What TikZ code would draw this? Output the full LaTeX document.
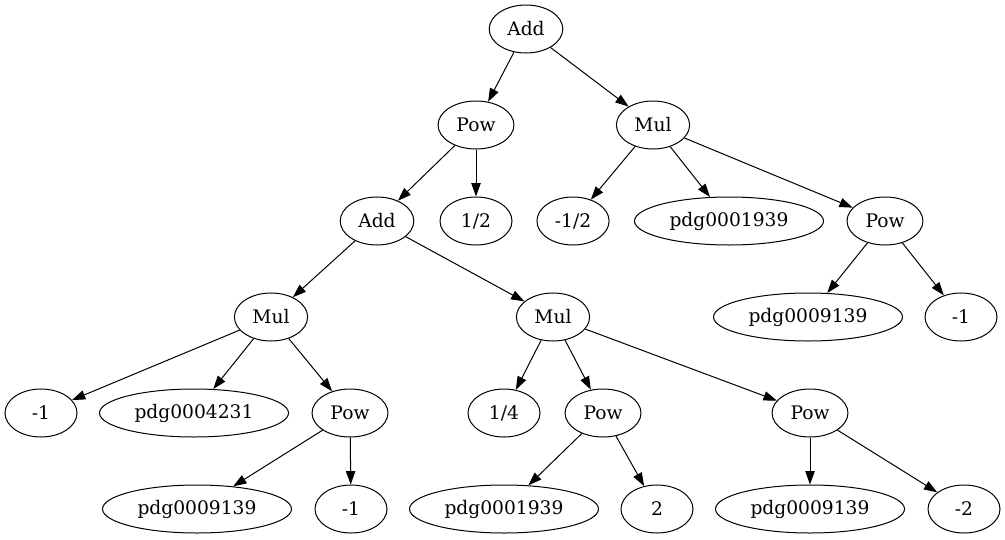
\documentclass[tikz,border=0pt]{standalone}
\usepackage{fontspec}
\setmainfont{DejaVu Serif}
\usetikzlibrary{arrows.meta,shapes.geometric}

\begin{document}
\begin{tikzpicture}[x=0.75pt,y=-0.75pt,
  op/.style={draw,ellipse,line width=0.75pt,minimum width=54pt,minimum height=36pt,
    inner xsep=5.5pt,inner ysep=2pt,font=\fontsize{14}{16}\selectfont},
  edge/.style={line width=0.75pt,-{Triangle[length=10pt,width=7pt]}}]
\useasboundingbox (0,0) rectangle (1005,539);

% Rank 1 and 2
\node[op] (add1) at (526,29) {Add};
\node[op] (pow1) at (476,125) {Pow};
\node[op] (mul1) at (653,125) {Mul};

% Rank 3
\node[op] (add2) at (377,221) {Add};
\node[op] (half) at (476,221) {1/2};
\node[op] (mhalf) at (573,221) {-1/2};
\node[op] (pdgA) at (729,221) {pdg0001939};
\node[op] (pow2) at (885,221) {Pow};

% Rank 4
\node[op] (mul2) at (271,317) {Mul};
\node[op] (mul3) at (553,317) {Mul};
\node[op] (pdgB) at (808,317) {pdg0009139};
\node[op] (mone1) at (961,317) {-1};

% Rank 5
\node[op] (mone2) at (41,413) {-1};
\node[op] (pdgC) at (194,413) {pdg0004231};
\node[op] (pow3) at (350,413) {Pow};
\node[op] (quarter) at (504,413) {1/4};
\node[op] (pow4) at (603,413) {Pow};
\node[op] (pow5) at (810,413) {Pow};

% Rank 6
\node[op] (pdgD) at (197,509) {pdg0009139};
\node[op] (mone3) at (351,509) {-1};
\node[op] (pdgE) at (504,509) {pdg0001939};
\node[op] (two) at (657,509) {2};
\node[op] (pdgF) at (810,509) {pdg0009139};
\node[op] (mtwo) at (964,509) {-2};

% Edges
\foreach \a/\b in {add1/pow1, add1/mul1, pow1/add2, pow1/half,
  mul1/mhalf, mul1/pdgA, mul1/pow2, add2/mul2, add2/mul3,
  pow2/pdgB, pow2/mone1, mul2/mone2, mul2/pdgC, mul2/pow3,
  mul3/quarter, mul3/pow4, mul3/pow5, pow3/pdgD, pow3/mone3,
  pow4/pdgE, pow4/two, pow5/pdgF, pow5/mtwo}
  \draw[edge] (\a) -- (\b);
\end{tikzpicture}
\end{document}
